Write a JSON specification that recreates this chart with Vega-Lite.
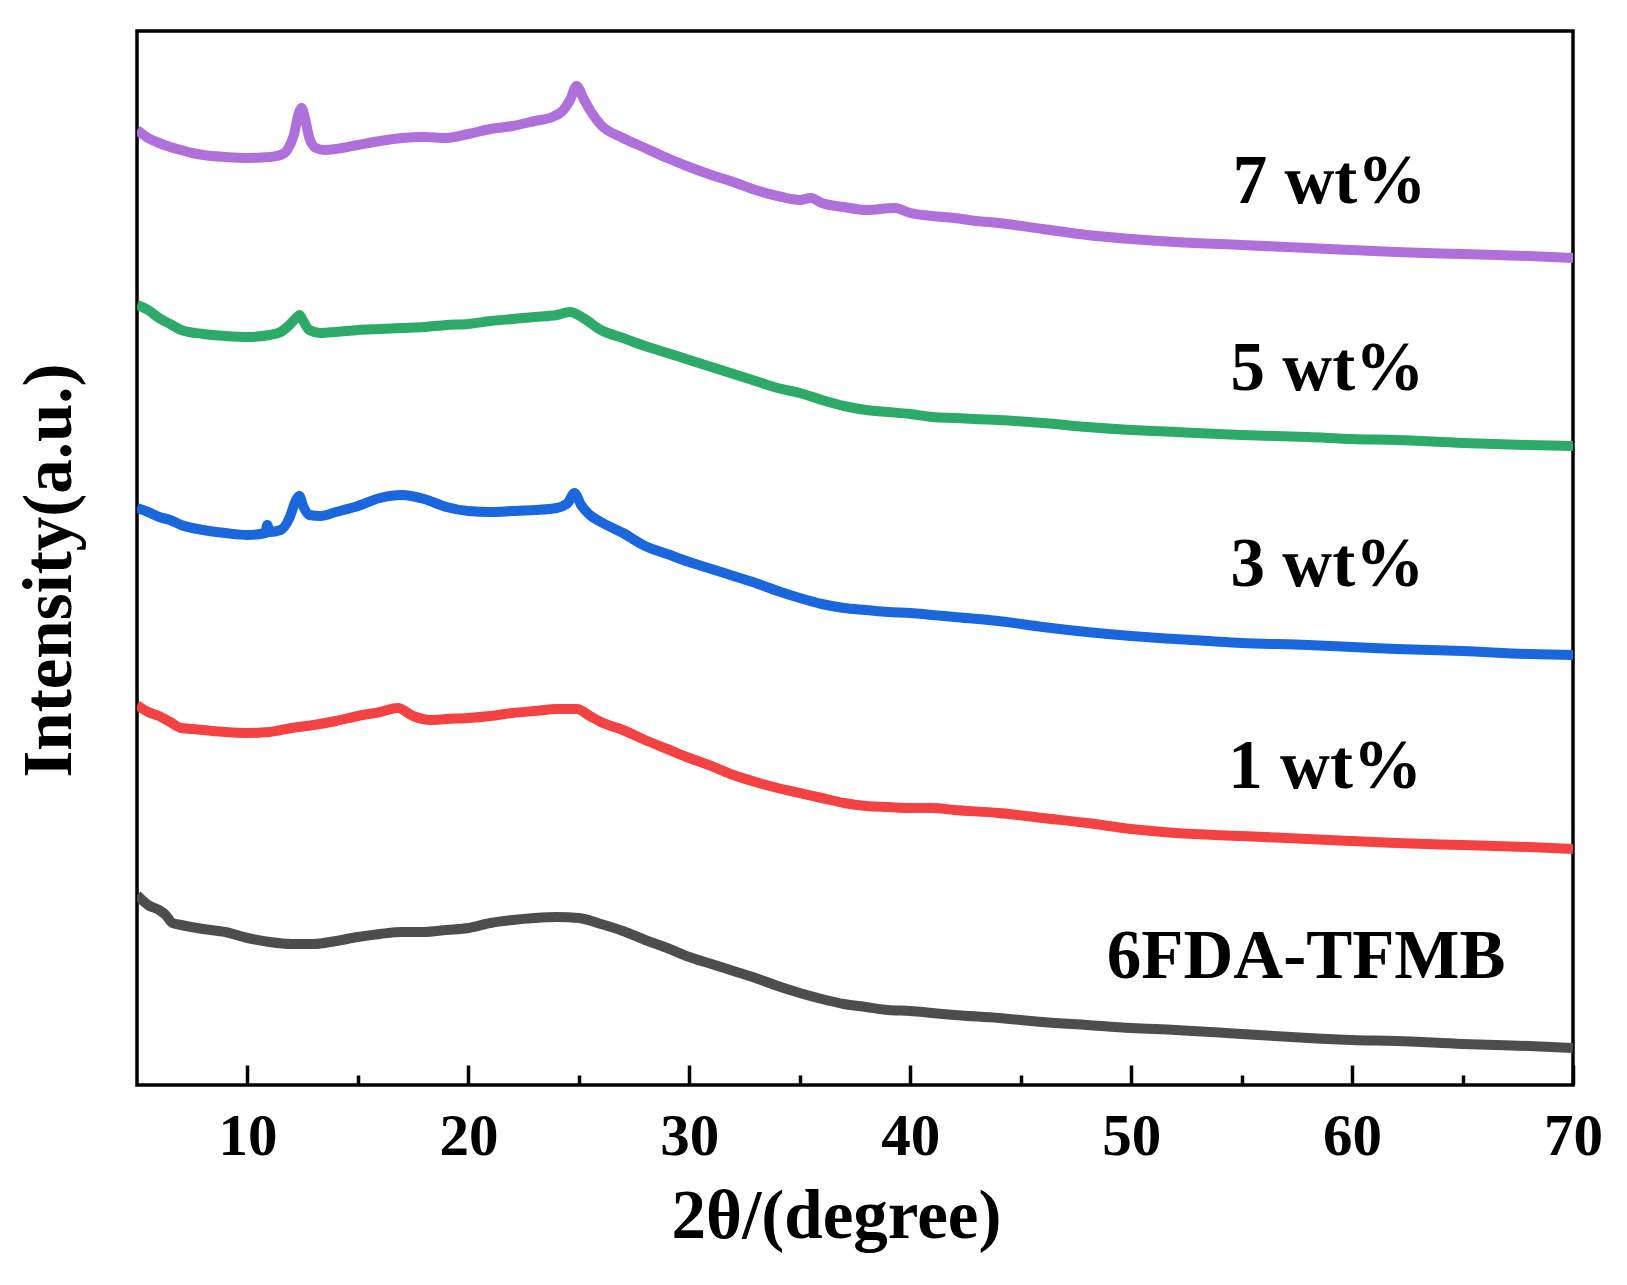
{
  "$schema": "https://vega.github.io/schema/vega-lite/v6.json",
  "autosize": {"type": "none"},
  "width": 1436,
  "height": 1054,
  "padding": {"left": 137, "top": 31, "right": 54, "bottom": 200},
  "background": "white",
  "config": {
    "view": {"stroke": "black", "strokeWidth": 3.5},
    "font": "Liberation Serif"
  },
  "datasets": {
    "xrd": [
      {"s":"7 wt%","x":5.0,"y":955},{"s":"7 wt%","x":5.5,"y":947},{"s":"7 wt%","x":6.0,"y":942},{"s":"7 wt%","x":6.5,"y":938},{"s":"7 wt%","x":7.0,"y":935},{"s":"7 wt%","x":7.5,"y":932},{"s":"7 wt%","x":8.0,"y":930},{"s":"7 wt%","x":9.0,"y":928},{"s":"7 wt%","x":10.0,"y":927},{"s":"7 wt%","x":11.0,"y":928},{"s":"7 wt%","x":11.5,"y":930},{"s":"7 wt%","x":11.8,"y":935},{"s":"7 wt%","x":12.1,"y":950},{"s":"7 wt%","x":12.3,"y":970},{"s":"7 wt%","x":12.45,"y":977},{"s":"7 wt%","x":12.6,"y":967},{"s":"7 wt%","x":12.8,"y":947},{"s":"7 wt%","x":13.1,"y":937},{"s":"7 wt%","x":13.5,"y":935},{"s":"7 wt%","x":14.0,"y":936},{"s":"7 wt%","x":15.0,"y":940},{"s":"7 wt%","x":16.0,"y":944},{"s":"7 wt%","x":17.0,"y":947},{"s":"7 wt%","x":18.0,"y":948},{"s":"7 wt%","x":19.0,"y":947},{"s":"7 wt%","x":20.0,"y":951},{"s":"7 wt%","x":21.0,"y":956},{"s":"7 wt%","x":22.0,"y":959},{"s":"7 wt%","x":23.0,"y":964},{"s":"7 wt%","x":23.8,"y":968},{"s":"7 wt%","x":24.3,"y":975},{"s":"7 wt%","x":24.6,"y":985},{"s":"7 wt%","x":24.9,"y":999},{"s":"7 wt%","x":25.2,"y":987},{"s":"7 wt%","x":25.5,"y":975},{"s":"7 wt%","x":26.0,"y":960},{"s":"7 wt%","x":27.0,"y":947},{"s":"7 wt%","x":28.0,"y":937},{"s":"7 wt%","x":29.0,"y":927},{"s":"7 wt%","x":30.0,"y":918},{"s":"7 wt%","x":31.0,"y":910},{"s":"7 wt%","x":32.0,"y":903},{"s":"7 wt%","x":33.0,"y":895},{"s":"7 wt%","x":34.0,"y":889},{"s":"7 wt%","x":35.0,"y":885},{"s":"7 wt%","x":35.5,"y":887},{"s":"7 wt%","x":36.0,"y":882},{"s":"7 wt%","x":37.0,"y":878},{"s":"7 wt%","x":38.0,"y":875},{"s":"7 wt%","x":39.3,"y":877},{"s":"7 wt%","x":40.0,"y":872},{"s":"7 wt%","x":41.0,"y":869},{"s":"7 wt%","x":42.0,"y":867},{"s":"7 wt%","x":43.0,"y":864},{"s":"7 wt%","x":44.0,"y":862},{"s":"7 wt%","x":46.0,"y":856},{"s":"7 wt%","x":48.0,"y":850},{"s":"7 wt%","x":50.0,"y":846},{"s":"7 wt%","x":52.0,"y":843},{"s":"7 wt%","x":55.0,"y":840},{"s":"7 wt%","x":58.0,"y":837},{"s":"7 wt%","x":60.0,"y":835},{"s":"7 wt%","x":62.0,"y":833},{"s":"7 wt%","x":65.0,"y":831},{"s":"7 wt%","x":68.0,"y":829},{"s":"7 wt%","x":70.0,"y":827},
      {"s":"5 wt%","x":5.0,"y":780},{"s":"5 wt%","x":5.5,"y":775},{"s":"5 wt%","x":6.0,"y":767},{"s":"5 wt%","x":6.5,"y":761},{"s":"5 wt%","x":7.0,"y":755},{"s":"5 wt%","x":8.0,"y":751},{"s":"5 wt%","x":9.0,"y":749},{"s":"5 wt%","x":10.0,"y":748},{"s":"5 wt%","x":11.0,"y":750},{"s":"5 wt%","x":11.5,"y":753},{"s":"5 wt%","x":11.9,"y":760},{"s":"5 wt%","x":12.2,"y":767},{"s":"5 wt%","x":12.35,"y":770},{"s":"5 wt%","x":12.5,"y":765},{"s":"5 wt%","x":12.8,"y":755},{"s":"5 wt%","x":13.3,"y":752},{"s":"5 wt%","x":14.0,"y":753},{"s":"5 wt%","x":15.0,"y":755},{"s":"5 wt%","x":16.0,"y":756},{"s":"5 wt%","x":17.0,"y":757},{"s":"5 wt%","x":18.0,"y":758},{"s":"5 wt%","x":19.0,"y":760},{"s":"5 wt%","x":20.0,"y":761},{"s":"5 wt%","x":21.0,"y":764},{"s":"5 wt%","x":22.0,"y":766},{"s":"5 wt%","x":23.0,"y":768},{"s":"5 wt%","x":24.0,"y":770},{"s":"5 wt%","x":24.6,"y":773},{"s":"5 wt%","x":25.2,"y":767},{"s":"5 wt%","x":26.0,"y":755},{"s":"5 wt%","x":27.0,"y":747},{"s":"5 wt%","x":28.0,"y":739},{"s":"5 wt%","x":29.0,"y":732},{"s":"5 wt%","x":30.0,"y":725},{"s":"5 wt%","x":31.0,"y":718},{"s":"5 wt%","x":32.0,"y":711},{"s":"5 wt%","x":33.0,"y":704},{"s":"5 wt%","x":34.0,"y":697},{"s":"5 wt%","x":35.0,"y":692},{"s":"5 wt%","x":36.0,"y":685},{"s":"5 wt%","x":37.0,"y":679},{"s":"5 wt%","x":38.0,"y":675},{"s":"5 wt%","x":39.0,"y":673},{"s":"5 wt%","x":40.0,"y":671},{"s":"5 wt%","x":41.0,"y":668},{"s":"5 wt%","x":42.0,"y":667},{"s":"5 wt%","x":44.0,"y":665},{"s":"5 wt%","x":46.0,"y":662},{"s":"5 wt%","x":48.0,"y":658},{"s":"5 wt%","x":50.0,"y":655},{"s":"5 wt%","x":52.0,"y":653},{"s":"5 wt%","x":55.0,"y":650},{"s":"5 wt%","x":58.0,"y":648},{"s":"5 wt%","x":60.0,"y":646},{"s":"5 wt%","x":62.0,"y":645},{"s":"5 wt%","x":65.0,"y":642},{"s":"5 wt%","x":68.0,"y":640},{"s":"5 wt%","x":70.0,"y":639},
      {"s":"3 wt%","x":5.0,"y":577},{"s":"3 wt%","x":5.5,"y":573},{"s":"3 wt%","x":6.0,"y":568},{"s":"3 wt%","x":6.5,"y":565},{"s":"3 wt%","x":7.0,"y":560},{"s":"3 wt%","x":8.0,"y":555},{"s":"3 wt%","x":9.0,"y":552},{"s":"3 wt%","x":10.0,"y":550},{"s":"3 wt%","x":10.8,"y":552},{"s":"3 wt%","x":10.9,"y":560},{"s":"3 wt%","x":11.0,"y":553},{"s":"3 wt%","x":11.5,"y":555},{"s":"3 wt%","x":11.9,"y":567},{"s":"3 wt%","x":12.2,"y":585},{"s":"3 wt%","x":12.35,"y":589},{"s":"3 wt%","x":12.5,"y":580},{"s":"3 wt%","x":12.8,"y":570},{"s":"3 wt%","x":13.3,"y":569},{"s":"3 wt%","x":14.0,"y":573},{"s":"3 wt%","x":15.0,"y":579},{"s":"3 wt%","x":16.0,"y":587},{"s":"3 wt%","x":17.0,"y":590},{"s":"3 wt%","x":18.0,"y":586},{"s":"3 wt%","x":19.0,"y":578},{"s":"3 wt%","x":20.0,"y":574},{"s":"3 wt%","x":21.0,"y":573},{"s":"3 wt%","x":22.0,"y":574},{"s":"3 wt%","x":23.0,"y":575},{"s":"3 wt%","x":24.0,"y":577},{"s":"3 wt%","x":24.5,"y":582},{"s":"3 wt%","x":24.8,"y":592},{"s":"3 wt%","x":25.1,"y":580},{"s":"3 wt%","x":25.5,"y":570},{"s":"3 wt%","x":26.0,"y":563},{"s":"3 wt%","x":27.0,"y":552},{"s":"3 wt%","x":28.0,"y":539},{"s":"3 wt%","x":29.0,"y":531},{"s":"3 wt%","x":30.0,"y":523},{"s":"3 wt%","x":31.0,"y":516},{"s":"3 wt%","x":32.0,"y":509},{"s":"3 wt%","x":33.0,"y":502},{"s":"3 wt%","x":34.0,"y":494},{"s":"3 wt%","x":35.0,"y":487},{"s":"3 wt%","x":36.0,"y":481},{"s":"3 wt%","x":37.0,"y":477},{"s":"3 wt%","x":38.0,"y":475},{"s":"3 wt%","x":39.0,"y":473},{"s":"3 wt%","x":40.0,"y":472},{"s":"3 wt%","x":41.0,"y":470},{"s":"3 wt%","x":42.0,"y":468},{"s":"3 wt%","x":44.0,"y":464},{"s":"3 wt%","x":46.0,"y":458},{"s":"3 wt%","x":48.0,"y":453},{"s":"3 wt%","x":50.0,"y":449},{"s":"3 wt%","x":52.0,"y":446},{"s":"3 wt%","x":55.0,"y":442},{"s":"3 wt%","x":58.0,"y":440},{"s":"3 wt%","x":60.0,"y":438},{"s":"3 wt%","x":62.0,"y":436},{"s":"3 wt%","x":65.0,"y":434},{"s":"3 wt%","x":68.0,"y":431},{"s":"3 wt%","x":70.0,"y":430},
      {"s":"1 wt%","x":5.0,"y":380},{"s":"1 wt%","x":5.5,"y":373},{"s":"1 wt%","x":6.0,"y":369},{"s":"1 wt%","x":6.5,"y":363},{"s":"1 wt%","x":7.0,"y":357},{"s":"1 wt%","x":7.5,"y":356},{"s":"1 wt%","x":8.0,"y":355},{"s":"1 wt%","x":9.0,"y":353},{"s":"1 wt%","x":10.0,"y":352},{"s":"1 wt%","x":11.0,"y":353},{"s":"1 wt%","x":12.0,"y":357},{"s":"1 wt%","x":13.0,"y":360},{"s":"1 wt%","x":14.0,"y":364},{"s":"1 wt%","x":15.0,"y":369},{"s":"1 wt%","x":16.0,"y":373},{"s":"1 wt%","x":16.8,"y":377},{"s":"1 wt%","x":17.5,"y":369},{"s":"1 wt%","x":18.3,"y":365},{"s":"1 wt%","x":19.0,"y":366},{"s":"1 wt%","x":20.0,"y":367},{"s":"1 wt%","x":21.0,"y":369},{"s":"1 wt%","x":22.0,"y":372},{"s":"1 wt%","x":23.0,"y":374},{"s":"1 wt%","x":24.0,"y":376},{"s":"1 wt%","x":24.9,"y":376},{"s":"1 wt%","x":25.5,"y":369},{"s":"1 wt%","x":26.0,"y":363},{"s":"1 wt%","x":27.0,"y":355},{"s":"1 wt%","x":28.0,"y":345},{"s":"1 wt%","x":29.0,"y":336},{"s":"1 wt%","x":30.0,"y":327},{"s":"1 wt%","x":31.0,"y":319},{"s":"1 wt%","x":32.0,"y":310},{"s":"1 wt%","x":33.0,"y":303},{"s":"1 wt%","x":34.0,"y":297},{"s":"1 wt%","x":35.0,"y":292},{"s":"1 wt%","x":36.0,"y":287},{"s":"1 wt%","x":37.0,"y":282},{"s":"1 wt%","x":38.0,"y":279},{"s":"1 wt%","x":39.0,"y":278},{"s":"1 wt%","x":40.0,"y":277},{"s":"1 wt%","x":41.0,"y":277},{"s":"1 wt%","x":42.0,"y":275},{"s":"1 wt%","x":44.0,"y":272},{"s":"1 wt%","x":46.0,"y":267},{"s":"1 wt%","x":48.0,"y":262},{"s":"1 wt%","x":50.0,"y":256},{"s":"1 wt%","x":52.0,"y":252},{"s":"1 wt%","x":55.0,"y":249},{"s":"1 wt%","x":58.0,"y":246},{"s":"1 wt%","x":60.0,"y":244},{"s":"1 wt%","x":62.0,"y":242},{"s":"1 wt%","x":65.0,"y":240},{"s":"1 wt%","x":68.0,"y":238},{"s":"1 wt%","x":70.0,"y":236},
      {"s":"6FDA-TFMB","x":5.0,"y":190},{"s":"6FDA-TFMB","x":5.5,"y":180},{"s":"6FDA-TFMB","x":6.0,"y":175},{"s":"6FDA-TFMB","x":6.3,"y":170},{"s":"6FDA-TFMB","x":6.6,"y":162},{"s":"6FDA-TFMB","x":7.0,"y":160},{"s":"6FDA-TFMB","x":8.0,"y":156},{"s":"6FDA-TFMB","x":9.0,"y":153},{"s":"6FDA-TFMB","x":10.0,"y":147},{"s":"6FDA-TFMB","x":11.0,"y":143},{"s":"6FDA-TFMB","x":12.0,"y":141},{"s":"6FDA-TFMB","x":13.0,"y":141},{"s":"6FDA-TFMB","x":14.0,"y":144},{"s":"6FDA-TFMB","x":15.0,"y":148},{"s":"6FDA-TFMB","x":16.0,"y":151},{"s":"6FDA-TFMB","x":17.0,"y":153},{"s":"6FDA-TFMB","x":18.0,"y":153},{"s":"6FDA-TFMB","x":19.0,"y":155},{"s":"6FDA-TFMB","x":20.0,"y":157},{"s":"6FDA-TFMB","x":21.0,"y":162},{"s":"6FDA-TFMB","x":22.0,"y":165},{"s":"6FDA-TFMB","x":23.0,"y":167},{"s":"6FDA-TFMB","x":24.0,"y":168},{"s":"6FDA-TFMB","x":25.0,"y":167},{"s":"6FDA-TFMB","x":26.0,"y":161},{"s":"6FDA-TFMB","x":27.0,"y":154},{"s":"6FDA-TFMB","x":28.0,"y":145},{"s":"6FDA-TFMB","x":29.0,"y":137},{"s":"6FDA-TFMB","x":30.0,"y":128},{"s":"6FDA-TFMB","x":31.0,"y":121},{"s":"6FDA-TFMB","x":32.0,"y":114},{"s":"6FDA-TFMB","x":33.0,"y":107},{"s":"6FDA-TFMB","x":34.0,"y":99},{"s":"6FDA-TFMB","x":35.0,"y":92},{"s":"6FDA-TFMB","x":36.0,"y":86},{"s":"6FDA-TFMB","x":37.0,"y":81},{"s":"6FDA-TFMB","x":38.0,"y":78},{"s":"6FDA-TFMB","x":39.0,"y":75},{"s":"6FDA-TFMB","x":40.0,"y":74},{"s":"6FDA-TFMB","x":41.0,"y":72},{"s":"6FDA-TFMB","x":42.0,"y":70},{"s":"6FDA-TFMB","x":44.0,"y":67},{"s":"6FDA-TFMB","x":46.0,"y":63},{"s":"6FDA-TFMB","x":48.0,"y":60},{"s":"6FDA-TFMB","x":50.0,"y":57},{"s":"6FDA-TFMB","x":52.0,"y":55},{"s":"6FDA-TFMB","x":55.0,"y":51},{"s":"6FDA-TFMB","x":58.0,"y":47},{"s":"6FDA-TFMB","x":60.0,"y":45},{"s":"6FDA-TFMB","x":62.0,"y":44},{"s":"6FDA-TFMB","x":65.0,"y":41},{"s":"6FDA-TFMB","x":68.0,"y":39},{"s":"6FDA-TFMB","x":70.0,"y":37}
    ],
    "labels": [
      {"t":"7 wt%","x":54.6,"y":882},
      {"t":"5 wt%","x":54.5,"y":695},
      {"t":"3 wt%","x":54.5,"y":499},
      {"t":"1 wt%","x":54.4,"y":297},
      {"t":"6FDA-TFMB","x":48.9,"y":107}
    ]
  },
  "resolve": {"axis": {"x": "independent", "y": "independent"}},
  "layer": [
    {
      "data": {"name": "xrd"},
      "mark": {"type": "line", "strokeWidth": 10, "strokeJoin": "round", "strokeCap": "butt", "interpolate": "monotone", "clip": true},
      "encoding": {
        "x": {"field": "x", "type": "quantitative", "scale": {"domain": [5, 70], "nice": false, "zero": false},
          "axis": {"orient": "bottom", "values": [10,20,30,40,50,60,70], "format": "d", "domain": false, "ticks": false, "grid": false,
            "labelFont": "Liberation Serif", "labelFontWeight": "bold", "labelFontSize": 59, "labelColor": "black",
            "labelBaseline": "alphabetic", "labelPadding": 69, "labelFlush": false, "labelBound": false, "labelOverlap": false,
            "title": "2θ/(degree)", "titleFont": "Liberation Serif", "titleFontWeight": "bold", "titleFontSize": 69, "titleColor": "black",
            "titleX": 699, "titleY": 152, "titleBaseline": "alphabetic", "titleAlign": "center"}},
        "y": {"field": "y", "type": "quantitative", "scale": {"domain": [0, 1054], "nice": false, "zero": false},
          "axis": {"orient": "left", "domain": false, "ticks": false, "labels": false, "grid": false,
            "title": "Intensity(a.u.)", "titleFont": "Liberation Serif", "titleFontWeight": "bold", "titleFontSize": 69, "titleColor": "black",
            "titleX": -67, "titleY": 539, "titleAngle": -90, "titleBaseline": "alphabetic", "titleAlign": "center"}},
        "color": {"field": "s", "type": "nominal", "legend": null,
          "scale": {"domain": ["7 wt%","5 wt%","3 wt%","1 wt%","6FDA-TFMB"], "range": ["#B070DC","#2EAA68","#1A66DC","#F44242","#4D4D4D"]}},
        "detail": {"field": "s"}
      }
    },
    {
      "data": {"name": "labels"},
      "mark": {"type": "text", "align": "left", "baseline": "alphabetic", "font": "Liberation Serif", "fontWeight": "bold", "fontSize": 69, "color": "black"},
      "encoding": {
        "x": {"field": "x", "type": "quantitative", "scale": {"domain": [5, 70], "nice": false, "zero": false},
          "axis": {"orient": "bottom", "values": [10,20,30,40,50,60,70], "domain": false, "labels": false, "grid": false, "title": null,
            "tickSize": -20, "tickWidth": 3.5, "tickColor": "black"}},
        "y": {"field": "y", "type": "quantitative", "axis": null},
        "text": {"field": "t"}
      }
    },
    {
      "data": {"name": "labels"},
      "mark": {"type": "point", "opacity": 0},
      "encoding": {
        "x": {"field": "x", "type": "quantitative", "scale": {"domain": [5, 70], "nice": false, "zero": false},
          "axis": {"orient": "bottom", "values": [15,25,35,45,55,65], "domain": false, "labels": false, "grid": false, "title": null,
            "tickSize": -10, "tickWidth": 3.5, "tickColor": "black"}},
        "y": {"field": "y", "type": "quantitative", "axis": null}
      }
    }
  ]
}
